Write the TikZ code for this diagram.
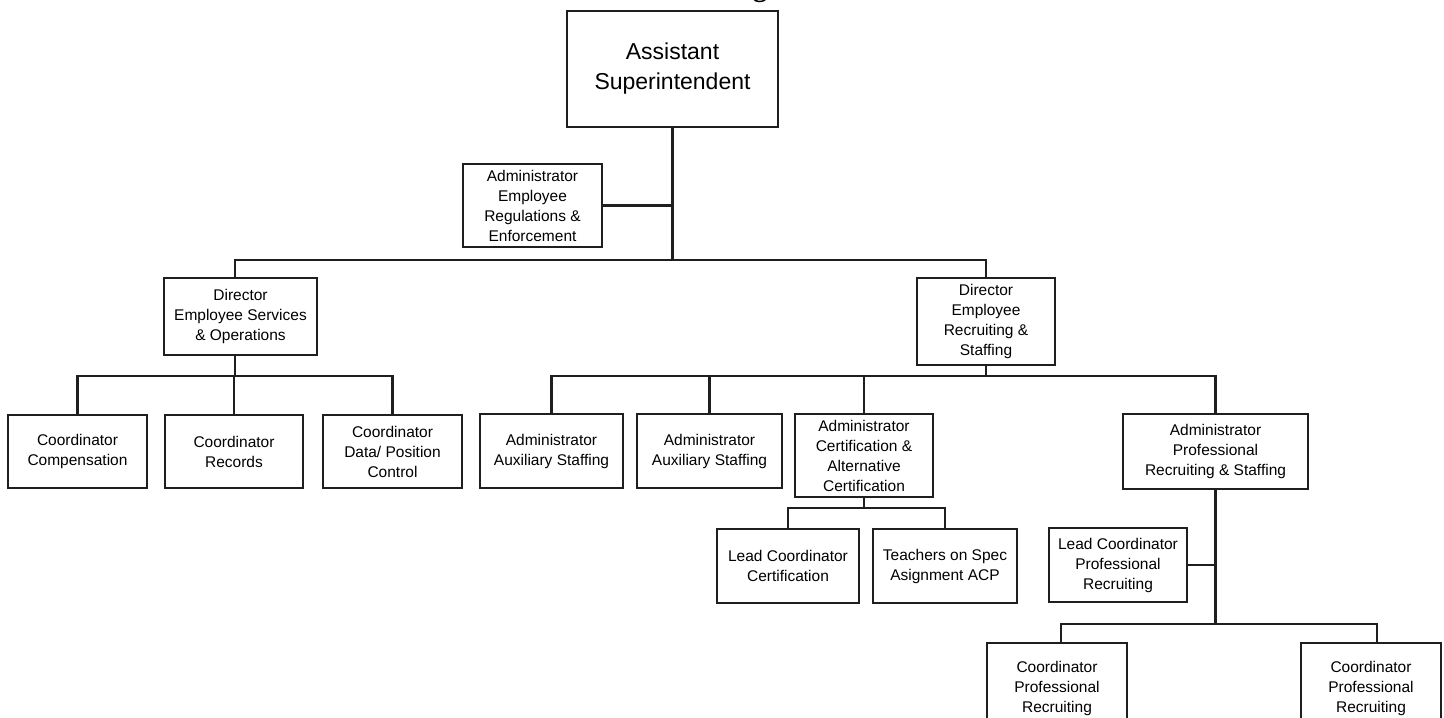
\documentclass[tikz,border=0pt]{standalone}
\usepackage{fontspec}
\setmainfont{Liberation Sans}
\newfontfamily\titlefont{Liberation Serif}
\usetikzlibrary{calc}
\begin{document}
\begin{tikzpicture}[x=0.5pt,y=-0.5pt,
  box/.style={draw=black!88, line width=1.2pt, align=center, inner sep=0pt,
    fill=white, font=\fontsize{7.75}{10}\selectfont},
  bigbox/.style={box, font=\fontsize{11.5}{15}\selectfont},
  sz/.style 2 args={minimum width=#1*0.5pt, minimum height=#2*0.5pt},
  link/.style={draw=black!88, line width=1.1pt}]
\useasboundingbox (0,0) rectangle (1444,717);

% title, mostly above the page edge
\node[anchor=base, font=\titlefont\bfseries\fontsize{14}{16}\selectfont] (title) at (760,-3) {g};

% top level
\node[bigbox, sz={211}{116}] (sup) at (672.5,69) {Assistant\\Superintendent};
\node[box, sz={139}{83}] (reg) at (532.5,205.5) {Administrator\\Employee\\Regulations \&\\Enforcement};

% directors
\node[box, sz={153}{77}] (des) at (240.5,316.5) {Director\\Employee Services\\\& Operations};
\node[box, sz={138}{87}] (drs) at (986,321.5) {Director\\Employee\\Recruiting \&\\Staffing};

% services and operations staff
\node[box, sz={139}{73}] (cc) at (77.5,451.5) {Coordinator\\Compensation};
\node[box, sz={138}{73}] (cr) at (234,451.5) {Coordinator\\Records};
\node[box, sz={139}{73}] (cd) at (392.5,451.5) {Coordinator\\Data/ Position\\Control};

% recruiting and staffing staff
\node[box, sz={143}{74}] (a1) at (551.5,451) {Administrator\\Auxiliary Staffing};
\node[box, sz={145}{74}] (a2) at (709.5,451) {Administrator\\Auxiliary Staffing};
\node[box, sz={138}{83}] (ac) at (864,455.5) {Administrator\\Certification \&\\Alternative\\Certification};
\node[box, sz={185}{75}] (ap) at (1215.5,451.5) {Administrator\\Professional\\Recruiting \& Staffing};

% certification staff
\node[box, sz={142}{74}] (lc) at (788,566) {Lead Coordinator\\Certification};
\node[box, sz={144}{74}] (ts) at (945,566) {Teachers on Spec\\Asignment ACP};

% professional recruiting staff
\node[box, sz={138}{74}] (lp) at (1118,565) {Lead Coordinator\\Professional\\Recruiting};
\node[box, sz={140}{90}] (cp1) at (1057,688) {Coordinator\\Professional\\Recruiting};
\node[box, sz={140}{90}] (cp2) at (1371,688) {Coordinator\\Professional\\Recruiting};

% bus lines
\coordinate (busA) at (672.5,260);
\coordinate (busB) at (235,376);
\coordinate (busC) at (986,376);
\coordinate (busD) at (864,508);
\coordinate (busE) at (1215.5,624);

\draw[link] (sup.south) -- (busA);
\draw[link] (reg.east) -- (reg.east -| busA);
\draw[link] ([xshift=-2.75pt]des.north) |- (busA) -| (drs.north);

\draw[link] ([xshift=-2.75pt]des.south) -- (busB);
\draw[link] (cc.north) |- (busB) -| (cd.north);
\draw[link] (cr.north) -- (cr.north |- busB);

\draw[link] (drs.south) -- (busC);
\draw[link] (a1.north) |- (busC) -| (ap.north);
\draw[link] (a2.north) -- (a2.north |- busC);
\draw[link] (ac.north) -- (ac.north |- busC);

\draw[link] (ac.south) -- (busD);
\draw[link] (lc.north) |- (busD) -| (ts.north);

\draw[link] (ap.south) -- (busE);
\draw[link] (lp.east) -- (lp.east -| busE);
\draw[link] ([xshift=2pt]cp1.north) |- (busE) -| ([xshift=3pt]cp2.north);
\end{tikzpicture}
\end{document}
